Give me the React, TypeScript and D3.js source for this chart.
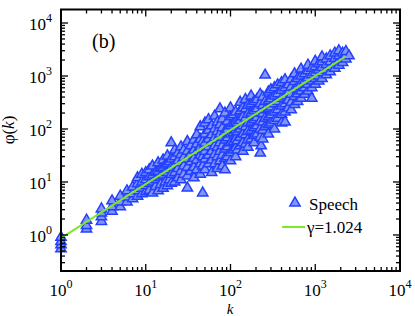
import React from 'react';
import * as d3 from 'd3';

// k values (integer ranks) and the phi(k) values seen at each
const sampleK = [
  1, 2, 3, 4, 5, 6, 7, 8, 9, 10, 11, 12, 13, 14, 15, 16, 17, 18, 19, 20,
  22, 24, 26, 28, 31, 34, 37, 40, 44, 47, 50, 55, 60, 65, 70, 75, 80, 86, 92,
  100, 108, 115, 120, 130, 140, 150, 160, 175, 190, 205, 224, 230, 240, 256,
  280, 300, 330, 360, 400, 440, 480, 520, 570, 620, 680, 750, 820, 910, 1000,
  1100, 1200, 1350, 1500, 1700, 1900, 2100, 2300, 2500,
];

const samplePhi = [
  [0.55, 0.65, 0.75, 0.9],
  [1.3, 1.5, 1.9],
  [1.8, 2.2, 2.6, 3.1],
  [2.8, 3.4, 4.4],
  [3.4, 4.2, 5.4],
  [4.2, 5.2, 6.8],
  [4.8, 6.0, 8.0],
  [5.4, 6.8, 9.2, 12],
  [6.0, 7.6, 10, 14],
  [6.5, 8.5, 11, 15],
  [7.0, 9.4, 12.5, 17],
  [6.2, 10, 13.5, 20],
  [8.2, 11, 15],
  [6.8, 12, 16, 23],
  [9, 13, 18],
  [7.6, 13.5, 19, 26],
  [10, 15, 21],
  [8.5, 15, 22, 31],
  [11, 17, 24],
  [9.5, 14, 19, 27, 55],
  [10, 15, 21, 30, 40],
  [12, 18, 25, 35],
  [11, 16, 23, 33, 46],
  [14, 20, 29, 40],
  [7.7, 13, 19, 27, 38, 58],
  [16, 24, 34, 48],
  [12, 19, 28, 40, 62],
  [17, 26, 37, 52, 78],
  [14, 22, 32, 45, 64, 110],
  [6.2, 20, 30, 42, 58],
  [17, 27, 38, 54, 80, 130],
  [22, 32, 46, 65, 95, 150],
  [15, 26, 38, 55, 78, 115],
  [22, 33, 48, 68, 100, 175],
  [18, 30, 45, 64, 90, 135],
  [25, 38, 55, 80, 120, 240],
  [20, 32, 48, 70, 105, 155],
  [17, 28, 42, 62, 90, 200],
  [30, 46, 68, 98, 140],
  [25, 36, 55, 80, 115, 170, 250],
  [40, 58, 85, 125, 185],
  [30, 44, 65, 95, 135, 210],
  [40, 60, 90, 130],
  [48, 70, 100, 145, 220, 320],
  [38, 55, 80, 115, 170, 250],
  [52, 78, 110, 160, 240, 360],
  [45, 62, 90, 130, 190, 280],
  [65, 95, 135, 200, 300, 420],
  [55, 75, 105, 150, 220, 330],
  [80, 115, 165, 240, 360],
  [35, 70, 100, 140, 200, 300, 450],
  [48],
  [65, 95, 135, 195, 280, 400],
  [110, 160, 230, 330, 1040],
  [80, 120, 170, 240, 340, 500],
  [130, 185, 260, 370, 550],
  [100, 145, 210, 300, 420, 600],
  [160, 230, 330, 460, 680],
  [130, 190, 270, 380, 540, 750],
  [135, 210, 300, 420, 600, 850],
  [250, 350, 480, 680],
  [230, 320, 450, 620, 870],
  [290, 410, 570, 790, 1100],
  [330, 460, 640, 900],
  [380, 520, 720, 1000, 1350],
  [450, 600, 800, 1100],
  [520, 700, 920, 1250, 1600],
  [380, 600, 800, 1050, 1400],
  [700, 900, 1150, 1500, 1900],
  [800, 1000, 1300, 1700],
  [900, 1150, 1450, 1850, 2300],
  [1050, 1300, 1650, 2100],
  [1200, 1500, 1850, 2400],
  [1400, 1750, 2150, 2700],
  [1600, 1950, 2400, 3000],
  [1800, 2200, 2700],
  [2100, 2500, 2900],
  [2400],
];

// power-law fit, gamma = 1.024
const fitK = [1, 2300];
const fitPhi = [0.87, 2350];

const xTickExps = [0, 1, 2, 3, 4];
const yTickExps = [0, 1, 2, 3, 4];

const W = 415;
const H = 316;
const serif = '"Liberation Serif", "DejaVu Serif", serif';
const triFill = '#8594f4';
const triStroke = '#2140ff';
const fitColor = '#7ee82a';

const App = () => {
  const x = d3.scaleLog().domain([1, 1e4]).range([61, 400]);
  const y = d3.scaleLog().domain([Math.pow(10, -0.68), Math.pow(10, 4.255)]).range([271, 9.5]);

  const [x0, x1] = x.range();
  const [y0, y1] = y.range();

  const xTicks = x.ticks();
  const yTicks = y.ticks();
  const isMajor = (v) => Math.abs(Math.log10(v) - Math.round(Math.log10(v))) < 1e-6;

  const points = [];
  sampleK.forEach((k, i) => samplePhi[i].forEach((p) => points.push([k, p])));

  const tri = d3.symbol().type(d3.symbolTriangle).size(46)();
  const line = d3.line().x((d) => x(d[0])).y((d) => y(d[1]));

  return (
    <svg width={W} height={H} style={{ position: 'absolute', left: 0, top: 0 }} fontFamily={serif}>
      <rect width={W} height={H} fill="#fff" />

      {/* points */}
      <g>
        {points.map((d, i) => (
          <path key={i} d={tri} transform={`translate(${x(d[0])},${y(d[1])})`}
            fill={triFill} stroke={triStroke} strokeWidth={1.5} />
        ))}
      </g>

      {/* fit line */}
      <path d={line(fitK.map((k, i) => [k, fitPhi[i]]))} fill="none" stroke={fitColor} strokeWidth={2} />

      {/* ticks on all four sides, inward */}
      <g stroke="#000" strokeWidth={1.3}>
        {xTicks.filter((t) => t >= 1 && t <= 1e4).map((t, i) => {
          const len = isMajor(t) ? 7 : 4;
          return (
            <g key={'x' + i}>
              <line x1={x(t)} x2={x(t)} y1={y0} y2={y0 - len} />
              <line x1={x(t)} x2={x(t)} y1={y1} y2={y1 + len} />
            </g>
          );
        })}
        {yTicks.filter((t) => y(t) <= y0 && y(t) >= y1).map((t, i) => {
          const len = isMajor(t) ? 7 : 4;
          return (
            <g key={'y' + i}>
              <line x1={x0} x2={x0 + len} y1={y(t)} y2={y(t)} />
              <line x1={x1} x2={x1 - len} y1={y(t)} y2={y(t)} />
            </g>
          );
        })}
      </g>

      {/* frame */}
      <rect x={x0} y={y1} width={x1 - x0} height={y0 - y1} fill="none" stroke="#000" strokeWidth={2} />

      {/* x tick labels */}
      {xTickExps.map((e) => (
        <text key={'xl' + e} x={x(Math.pow(10, e))} y={296} fontSize={17} textAnchor="middle">
          10<tspan fontSize={12} dy={-8}>{e}</tspan>
        </text>
      ))}

      {/* y tick labels */}
      {yTickExps.map((e) => (
        <text key={'yl' + e} x={52} y={y(Math.pow(10, e)) + 7} fontSize={17} textAnchor="end">
          10<tspan fontSize={12} dy={-8}>{e}</tspan>
        </text>
      ))}

      {/* axis titles */}
      <text x={230} y={314} fontSize={15} fontStyle="italic" textAnchor="middle">k</text>
      <text transform="translate(14,130) rotate(-90)" fontSize={17} textAnchor="middle">
        φ(<tspan fontStyle="italic">k</tspan>)
      </text>

      <text x={92} y={48} fontSize={20}>(b)</text>

      {/* legend */}
      <path d={tri} transform="translate(295,203)" fill={triFill} stroke={triStroke} strokeWidth={1.5} />
      <text x={309} y={210} fontSize={17}>Speech</text>
      <line x1={282} x2={305} y1={227} y2={227} stroke={fitColor} strokeWidth={2} />
      <text x={307} y={233} fontSize={17}>γ=1.024</text>
    </svg>
  );
};

export default App;
